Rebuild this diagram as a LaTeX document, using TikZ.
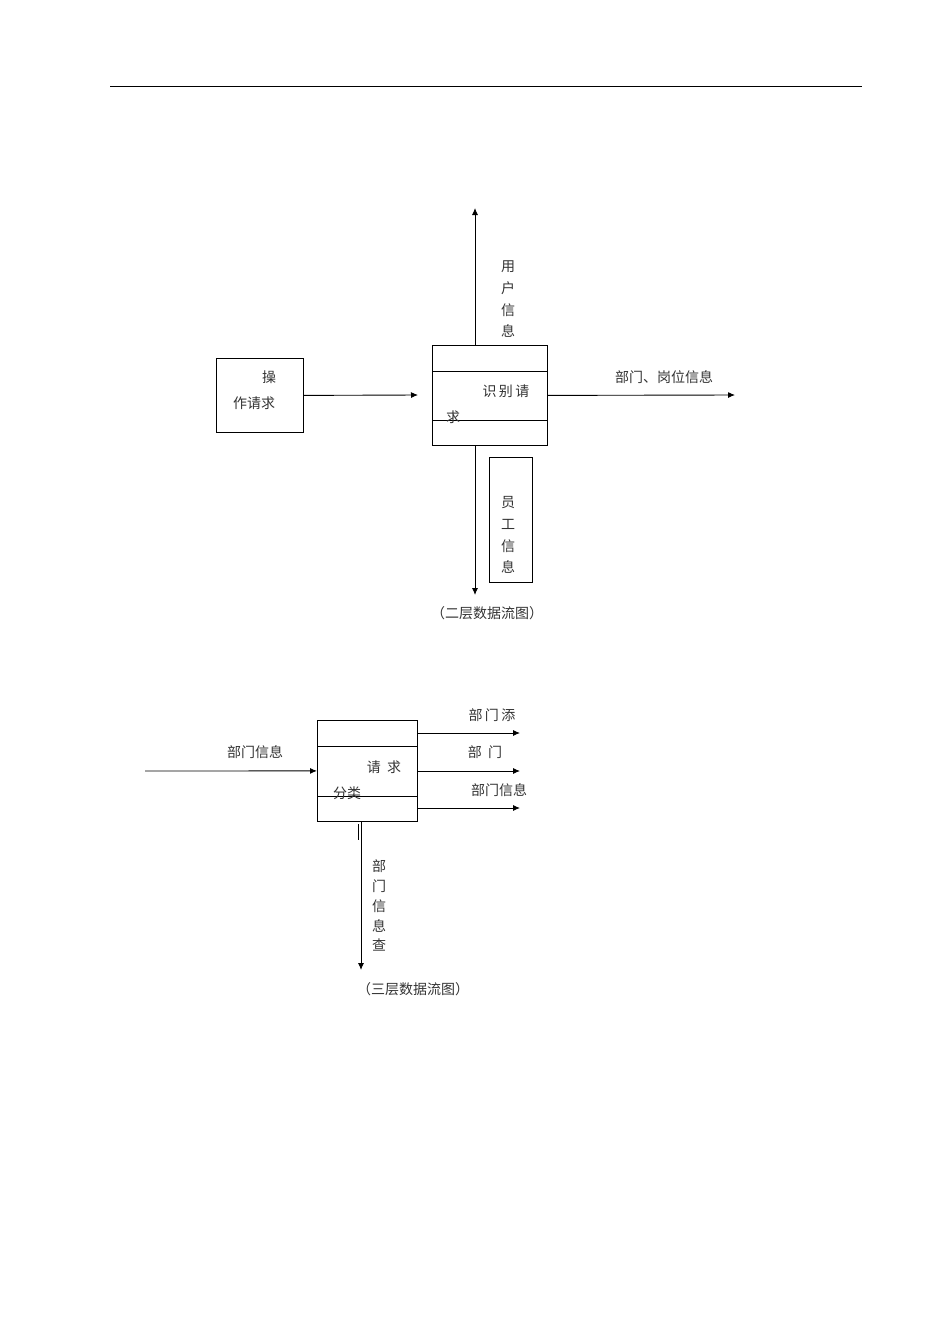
\documentclass[tikz,border=0pt]{standalone}
\usepackage{fontspec}
\setmainfont{Noto Sans CJK SC}
\usetikzlibrary{arrows.meta}
\begin{document}
\begin{tikzpicture}[x=1pt,y=-1pt,
  lbl/.style={inner sep=0pt,font=\fontsize{14}{16}\selectfont,text=black!80},
  box/.style={draw,line width=0.8pt},
  flow/.style={-{Latex[length=7pt,width=6pt]},line width=0.9pt}]
\useasboundingbox (0,0) rectangle (950,1344);
\draw[line width=0.6pt] (110,86) -- (862,86);
% level 2
\node[box,minimum width=87pt,minimum height=74pt,anchor=north west] (b1) at (216,358) {};
\node[lbl] at (269,377) {操};
\node[lbl] at (254,403) {作请求};
\node[box,minimum width=115pt,minimum height=100pt,anchor=north west] (b2) at (432,345) {};
\draw[line width=0.8pt] (432,371) -- (547,371) (432,420) -- (547,420);
\node[lbl] at (506,391) {识\,别\,请};
\node[lbl] at (453,417) {求};
\coordinate (in1) at (418,395);
\draw[flow] (b1.east) -- (in1);
\coordinate (up) at (475,208);
\draw[flow] (475,345) -- (up);
\foreach \t/\y in {用/267,户/288,信/310,息/331} \node[lbl] at (508,\y) {\t};
\coordinate (r1) at (735,395);
\draw[flow] (b2.east) -- (r1);
\node[lbl] at (664,377) {部门、岗位信息};
\coordinate (dn) at (475,595);
\draw[flow] (475,445) -- (dn);
\node[box,minimum width=43pt,minimum height=125pt,anchor=north west] (b3) at (489,457) {};
\foreach \t/\y in {员/503,工/524,信/546,息/567} \node[lbl] at (508,\y) {\t};
\node[lbl] at (487,613) {（二层数据流图）};
% level 3
\node[box,minimum width=100pt,minimum height=101pt,anchor=north west] (b4) at (317,720) {};
\draw[line width=0.8pt] (317,746) -- (417,746) (317,796) -- (417,796);
\node[lbl] at (384,767) {请\ \ 求};
\node[lbl] at (347,793) {分类};
\coordinate (src) at (145,771);
\draw[flow] (src) -- (b4.west);
\node[lbl] at (255,752) {部门信息};
\foreach \y/\n in {733/o1,771/o2,808/o3} {
  \coordinate (\n) at (520,\y);
  \draw[flow] (417,\y) -- (\n);
}
\node[lbl] at (492,715) {部\,门\,添};
\node[lbl] at (485,752) {部\ \ 门};
\node[lbl] at (499,790) {部门信息};
\draw[line width=0.8pt] (358,824) -- (358,840);
\coordinate (d3) at (361,970);
\draw[flow] (361,821) -- (d3);
\foreach \t/\y in {部/866,门/886,信/906,息/926,查/945} \node[lbl] at (379,\y) {\t};
\node[lbl] at (413,989) {（三层数据流图）};
\end{tikzpicture}
\end{document}
